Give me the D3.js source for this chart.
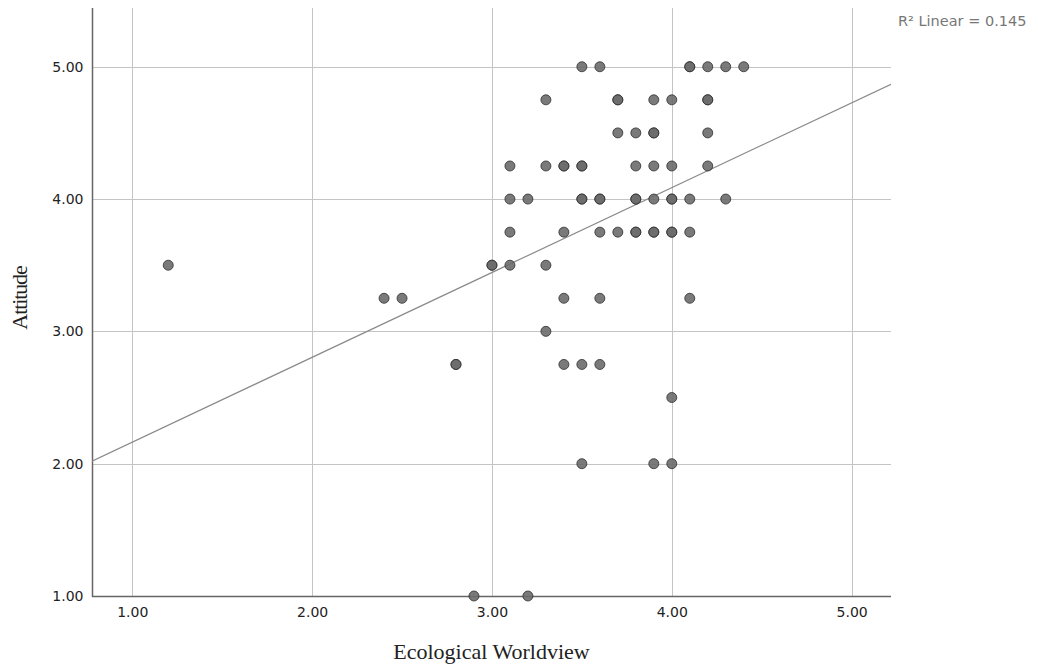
<html>
  <head>
    <title>Attitude vs Ecological Worldview</title>
    <script src="https://d3js.org/d3.v7.min.js"></script>
    <style>
      body{margin:0;background:#fff;}
    </style>
  </head>
  <body>
    <script>
      // data points (x = Ecological Worldview, y = Attitude), duplicates repeated
      var ecoX=[3.5,3.6,4.1,4.1,4.2,4.3,4.4,
                3.3,3.7,3.7,3.9,4.0,4.2,4.2,
                3.7,3.8,3.9,3.9,4.2,
                3.1,3.3,3.4,3.4,3.5,3.5,3.8,3.9,4.0,4.2,
                3.1,3.2,3.5,3.5,3.6,3.6,3.8,3.8,3.9,4.0,4.0,4.1,4.3,
                3.1,3.4,3.6,3.7,3.8,3.8,3.9,3.9,4.0,4.0,4.1,
                1.2,3.0,3.0,3.1,3.3,
                2.4,2.5,3.4,3.6,4.1,
                3.3,
                2.8,2.8,3.4,3.5,3.6,
                4.0,
                3.5,3.9,4.0,
                2.9,3.2];
      var attY=[5,5,5,5,5,5,5,
                4.75,4.75,4.75,4.75,4.75,4.75,4.75,
                4.5,4.5,4.5,4.5,4.5,
                4.25,4.25,4.25,4.25,4.25,4.25,4.25,4.25,4.25,4.25,
                4,4,4,4,4,4,4,4,4,4,4,4,4,
                3.75,3.75,3.75,3.75,3.75,3.75,3.75,3.75,3.75,3.75,3.75,
                3.5,3.5,3.5,3.5,3.5,
                3.25,3.25,3.25,3.25,3.25,
                3,
                2.75,2.75,2.75,2.75,2.75,
                2.5,
                2,2,2,
                1,1];
      var xTicks=[1,2,3,4,5];
      var yTicks=[1,2,3,4,5];
      var fitIntercept=1.522, fitSlope=0.641;
      var r2Label="R\u00b2 Linear = 0.145";

      var W=1038,H=668;
      var pLeft=92,pRight=891,pTop=8,pBottom=596;

      var x=d3.scaleLinear().domain([0.776,5.219]).range([pLeft,pRight]);
      var y=d3.scaleLinear().domain([1,5.444]).range([pBottom,pTop]);

      var svg=d3.select('body').append('svg')
                .attr('width',W)
                .attr('height',H);

      // grid
      svg.append('g').selectAll('line').data(xTicks).enter().append('line')
         .attr('x1',d=>Math.round(x(d))+0.5).attr('x2',d=>Math.round(x(d))+0.5)
         .attr('y1',pTop).attr('y2',pBottom)
         .attr('stroke','#c4c4c4').attr('stroke-width',1);
      svg.append('g').selectAll('line').data(yTicks).enter().append('line')
         .attr('x1',pLeft).attr('x2',pRight)
         .attr('y1',d=>Math.round(y(d))+0.5).attr('y2',d=>Math.round(y(d))+0.5)
         .attr('stroke','#c4c4c4').attr('stroke-width',1);

      // axes (no tick marks, SPSS style)
      var xAxis=d3.axisBottom(x).tickValues(xTicks).tickFormat(d3.format('.2f')).tickSize(0).tickPadding(11);
      var yAxis=d3.axisLeft(y).tickValues(yTicks).tickFormat(d3.format('.2f')).tickSize(0).tickPadding(9);

      var gx=svg.append('g').attr('transform','translate(0,'+(pBottom+0.5)+')').call(xAxis);
      var gy=svg.append('g').attr('transform','translate('+(pLeft+0.5)+',0)').call(yAxis);
      gx.select('.domain').remove();
      gy.select('.domain').remove();
      svg.selectAll('.tick text')
         .attr('font-family','"DejaVu Sans", Verdana, sans-serif')
         .attr('font-size',14)
         .attr('fill','#222');

      svg.append('line').attr('x1',pLeft+0.5).attr('x2',pLeft+0.5).attr('y1',pTop).attr('y2',pBottom+1)
         .attr('stroke','#666').attr('stroke-width',1.5);
      svg.append('line').attr('x1',pLeft).attr('x2',pRight).attr('y1',pBottom+0.5).attr('y2',pBottom+0.5)
         .attr('stroke','#666').attr('stroke-width',1.5);

      // fit line
      svg.append('clipPath').attr('id','plotclip').append('rect')
         .attr('x',pLeft).attr('y',pTop).attr('width',pRight-pLeft).attr('height',pBottom-pTop);
      var xd=x.domain();
      svg.append('line')
         .attr('clip-path','url(#plotclip)')
         .attr('x1',x(xd[0])).attr('y1',y(fitIntercept+fitSlope*xd[0]))
         .attr('x2',x(xd[1])).attr('y2',y(fitIntercept+fitSlope*xd[1]))
         .attr('stroke','#8a8a8a').attr('stroke-width',1.2);

      // points
      svg.append('g').selectAll('circle').data(d3.range(ecoX.length)).enter().append('circle')
         .attr('cx',i=>x(ecoX[i]))
         .attr('cy',i=>y(attY[i]))
         .attr('r',5)
         .attr('fill','#6c6c6c')
         .attr('fill-opacity',0.9)
         .attr('stroke','#2e2e2e')
         .attr('stroke-opacity',0.8)
         .attr('stroke-width',1);

      // labels
      svg.append('text').attr('x',898).attr('y',26)
         .attr('font-family','"DejaVu Sans", Verdana, sans-serif')
         .attr('font-size',14.5).attr('fill','#777')
         .text(r2Label);

      svg.append('text').attr('x',(pLeft+pRight)/2).attr('y',659)
         .attr('text-anchor','middle')
         .attr('font-family','"Liberation Serif", "Times New Roman", serif')
         .attr('font-size',22).attr('fill','#222')
         .text('Ecological Worldview');

      svg.append('text')
         .attr('transform','translate(27,298) rotate(-90)')
         .attr('text-anchor','middle')
         .attr('font-family','"Liberation Serif", "Times New Roman", serif')
         .attr('font-size',22).attr('letter-spacing',-1.1).attr('fill','#222')
         .text('Attitude');
    </script>
  </body>
</html>
